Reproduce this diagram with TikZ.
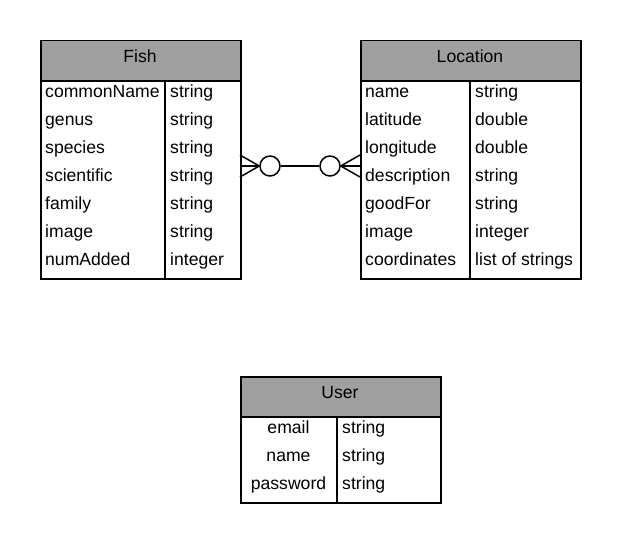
\documentclass[tikz,border=0pt]{standalone}
\usepackage{fontspec}
\setmainfont{Liberation Sans}
\definecolor{hdr}{RGB}{160,160,160}
\begin{document}
\begin{tikzpicture}[x=1pt,y=-1pt,
  tbl/.style={draw,line width=1.5pt,inner sep=0pt,anchor=north west},
  hdrbox/.style={draw,line width=1.5pt,fill=hdr,inner sep=0pt,anchor=north west},
  txt/.style={anchor=base west,inner sep=0pt,font=\fontsize{17.6}{19}\selectfont},
  ctxt/.style={anchor=base,inner sep=0pt,font=\fontsize{17.6}{19}\selectfont},
  ring/.style={draw,circle,line width=1.5pt,minimum size=20pt,inner sep=0pt,fill=white},
  conn/.style={line width=1.5pt}]
\useasboundingbox (0,0) rectangle (620,543);
% Fish
\node[tbl,minimum width=200pt,minimum height=238pt] (fish) at (40,40) {};
\node[hdrbox,minimum width=200pt,minimum height=40pt] (fishh) at (40,40) {};
\node[ctxt] (fisht) at (140,63) {Fish};
\draw[line width=1.5pt] (165,80) -- (165,278);
\foreach \n/\t [count=\i from 0] in {commonName/string,genus/string,species/string,scientific/string,family/string,image/string,numAdded/integer}{
  \node[txt] (fn\i) at (45,{97+28*\i}) {\n};
  \node[txt] (ft\i) at (170,{97+28*\i}) {\t};
}
% Location
\node[tbl,minimum width=220pt,minimum height=238pt] (loc) at (360,40) {};
\node[hdrbox,minimum width=220pt,minimum height=40pt] (loch) at (360,40) {};
\node[ctxt] (loct) at (470,63) {Location};
\draw[line width=1.5pt] (470,80) -- (470,278);
\foreach \n/\t [count=\i from 0] in {name/string,latitude/double,longitude/double,description/string,goodFor/string,image/integer,coordinates/list of strings}{
  \node[txt] (ln\i) at (365,{97+28*\i}) {\n};
  \node[txt] (lt\i) at (475,{97+28*\i}) {\t};
}
% User
\node[tbl,minimum width=200pt,minimum height=126pt] (user) at (240,376) {};
\node[hdrbox,minimum width=200pt,minimum height=40pt] (userh) at (240,376) {};
\node[ctxt] (usert) at (340,398) {User};
\draw[line width=1.5pt] (337,416) -- (337,502);
\foreach \n/\t [count=\i from 0] in {email/string,name/string,password/string}{
  \node[ctxt] (un\i) at (288.5,{433+28*\i}) {\n};
  \node[txt] (ut\i) at (342,{433+28*\i}) {\t};
}
% Connector
\coordinate (fa) at (240,166);
\coordinate (fa1) at (240,155);
\coordinate (fa2) at (240,177);
\coordinate (la) at (360,166);
\coordinate (la1) at (360,155);
\coordinate (la2) at (360,177);
\node[ring] (c1) at (270,166) {};
\node[ring] (c2) at (330,166) {};
\draw[conn] (fa) -- (c1.west);
\draw[conn] (fa1) -- (c1.west);
\draw[conn] (fa2) -- (c1.west);
\draw[conn] (c1) -- (c2);
\draw[conn] (la) -- (c2.east);
\draw[conn] (la1) -- (c2.east);
\draw[conn] (la2) -- (c2.east);
\end{tikzpicture}
\end{document}
